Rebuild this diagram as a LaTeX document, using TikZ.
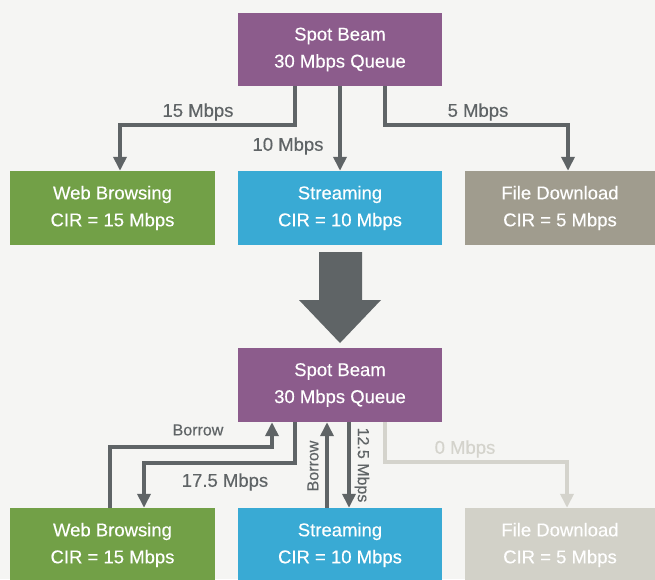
\documentclass[tikz,border=0pt]{standalone}
\usepackage{fontspec}
\setmainfont[FakeBold=0.35]{Liberation Sans}
\usetikzlibrary{arrows.meta,calc}
\definecolor{bgc}{HTML}{F5F5F3}
\definecolor{purp}{HTML}{8C5C8C}
\definecolor{grn}{HTML}{72A047}
\definecolor{blu}{HTML}{39AAD4}
\definecolor{gry}{HTML}{A09C8E}
\definecolor{lgry}{HTML}{D2D1C8}
\definecolor{dark}{HTML}{5F6466}
\definecolor{faint}{HTML}{D4D3CC}
\tikzset{
  box/.style={text=white, align=center, minimum height=74pt, inner sep=0pt,
    font=\fontsize{18.5}{27}\selectfont, execute at begin node={\rule{0pt}{17.5pt}}},
  arr/.style={draw=dark, line width=4pt, -{Triangle[width=13pt,length=14pt]}},
  lbl/.style={text=dark, font=\fontsize{18.5}{22}\selectfont, inner sep=0pt},
  slbl/.style={text=dark, font=\fontsize{16}{19}\selectfont, inner sep=0pt},
}
\begin{document}
\begin{tikzpicture}[x=1pt,y=-1pt]
\fill[bgc] (0,0) rectangle (655,579);
\useasboundingbox (0,0) rectangle (655,579);
% top half
\node[box, fill=purp, minimum width=204pt, minimum height=73pt] (top) at (340,49.5) {Spot Beam\\30 Mbps Queue};
\node[box, fill=grn, minimum width=205pt] (web) at (112.5,208) {Web Browsing\\CIR = 15 Mbps};
\node[box, fill=blu, minimum width=204pt] (str) at (340,208) {Streaming\\CIR = 10 Mbps};
\node[box, fill=gry, minimum width=190pt] (fd) at (560,208) {File Download\\CIR = 5 Mbps};
\draw[arr] ([xshift=-45]top.south) -- ++(0,39) -| ([xshift=7.5]web.north);
\draw[arr] (top.south) -- (str.north);
\draw[arr] ([xshift=45]top.south) -- ++(0,39) -| ([xshift=8]fd.north);
\node[lbl] (l15) at (198,112) {15 Mbps};
\node[lbl] (l10) at (288,146) {10 Mbps};
\node[lbl] (l5) at (478,112) {5 Mbps};
% big arrow
\fill[dark] (319,252) -- (362,252) -- (362,300) -- (381,300) -- (340,343) -- (299,300) -- (319,300) -- cycle;
% bottom half
\node[box, fill=purp, minimum width=204pt] (top2) at (340,385) {Spot Beam\\30 Mbps Queue};
\node[box, fill=grn, minimum width=205pt] (web2) at (112.5,545) {Web Browsing\\CIR = 15 Mbps};
\node[box, fill=blu, minimum width=204pt] (str2) at (340,545) {Streaming\\CIR = 10 Mbps};
\node[box, fill=lgry, minimum width=190pt] (fd2) at (560,545) {File Download\\CIR = 5 Mbps};
\draw[arr] ([xshift=-2.5]web2.north) -- ++(0,-61) -| ([xshift=-68]top2.south);
\draw[arr] ([xshift=-45]top2.south) -- ++(0,41) -| ([xshift=31.5]web2.north);
\draw[arr] ([xshift=-13]str2.north) -- ([xshift=-13]top2.south);
\draw[arr] ([xshift=9]top2.south) -- ([xshift=9]str2.north);
\draw[arr, draw=faint] ([xshift=45]top2.south) -- ++(0,40) -| ([xshift=7]fd2.north);
\node[slbl] (lb1) at (198,430) {Borrow};
\node[lbl] (l175) at (225,482) {17.5 Mbps};
\node[slbl, rotate=90] (lb2) at (313,466) {Borrow};
\node[slbl, rotate=-90] (l125) at (362,465) {12.5 Mbps};
\node[lbl, text=faint] (l0) at (465,449) {0 Mbps};
\end{tikzpicture}
\end{document}
